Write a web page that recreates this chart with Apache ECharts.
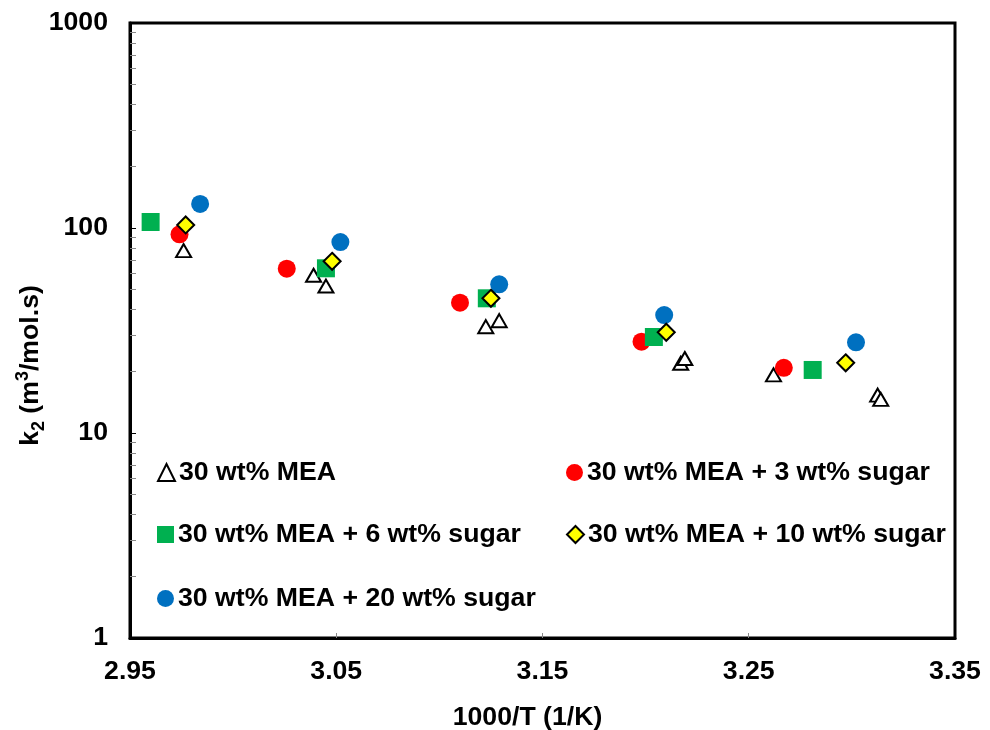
<!DOCTYPE html>
<html>
<head>
<meta charset="utf-8">
<script src="https://cdn.jsdelivr.net/npm/echarts@6/dist/echarts.min.js"></script>
<style>
  html, body { margin: 0; padding: 0; background: #fff; }
  #chart { width: 990px; height: 730px; }
</style>
</head>
<body>
<div id="chart"></div>
<script>
// Second-order rate constant k2 against inverse temperature, 1000/T
const FONT = '"Liberation Sans", Arial, sans-serif';
const FS = 26.67; // 20 pt

const seriesNames = [
  '30 wt% MEA',
  '30 wt% MEA + 3 wt% sugar',
  '30 wt% MEA + 6 wt% sugar',
  '30 wt% MEA + 10 wt% sugar',
  '30 wt% MEA + 20 wt% sugar'
];

// 30 wt% MEA
const xMEA = [2.976, 3.039, 3.045, 3.1225, 3.129, 3.217, 3.219, 3.262, 3.3125, 3.314];
const yMEA = [77.5, 58.8, 52.1, 33.0, 35.3, 21.9, 23.1, 19.2, 15.3, 14.6];
// + 3 wt% sugar
const xSugar3 = [2.974, 3.026, 3.110, 3.198, 3.267];
const ySugar3 = [93.2, 63.3, 43.2, 27.9, 20.8];
// + 6 wt% sugar
const xSugar6 = [2.960, 3.045, 3.123, 3.204, 3.281];
const ySugar6 = [107, 63.6, 45.4, 29.4, 20.3];
// + 10 wt% sugar
const xSugar10 = [2.977, 3.048, 3.125, 3.210, 3.297];
const ySugar10 = [103.5, 68.8, 45.4, 31.0, 22.0];
// + 20 wt% sugar
const xSugar20 = [2.984, 3.052, 3.129, 3.209, 3.302];
const ySugar20 = [131, 85.4, 53.1, 37.6, 27.7];

const xTickLabels = [2.95, 3.05, 3.15, 3.25, 3.35];
const xInnerTicks = [3.05, 3.15, 3.25];
const yMajor = [1, 10, 100, 1000];
const yMinor = [2, 3, 4, 5, 6, 7, 8, 9, 20, 30, 40, 50, 60, 70, 80, 90, 200, 300, 400, 500, 600, 700, 800, 900];

const pairs = (xs, ys) => xs.map((x, i) => [x, ys[i]]);

const labelStyle = { fontFamily: FONT, fontWeight: 'bold', fontSize: FS, color: '#000' };

function legendFor(name, left, top) {
  return {
    data: [name],
    left: left,
    top: top,
    padding: 0,
    itemGap: 0,
    itemWidth: 17,
    itemHeight: 17,
    selectedMode: false,
    textStyle: Object.assign({ padding: [0, 0, 0, -1] }, labelStyle)
  };
}

const chart = echarts.init(document.getElementById('chart'), null, { renderer: 'canvas' });

chart.setOption({
  animation: false,
  backgroundColor: '#fff',
  grid: {
    left: 130, right: 35, top: 23, bottom: 92,
    outerBoundsMode: 'none',
    containLabel: false,
    show: true, borderColor: '#000', borderWidth: 3, backgroundColor: 'transparent'
  },
  legend: [
    legendFor(seriesNames[0], 157, 459),
    legendFor(seriesNames[1], 566, 459),
    legendFor(seriesNames[2], 157, 521),
    legendFor(seriesNames[3], 566, 521),
    legendFor(seriesNames[4], 157, 585)
  ],
  xAxis: {
    type: 'value',
    min: 2.95,
    max: 3.35,
    name: '1000/T (1/K)',
    nameLocation: 'middle',
    nameGap: 66,
    nameMoveOverlap: false,
    nameTextStyle: Object.assign({ padding: [0, 30, 0, 0] }, labelStyle),
    axisLine: { show: true, onZero: false, lineStyle: { color: '#000', width: 3 } },
    axisTick: { show: true, inside: true, length: 5, customValues: xInnerTicks, lineStyle: { color: '#888', width: 1 } },
    axisLabel: Object.assign({ margin: 20, customValues: xTickLabels, formatter: v => v.toFixed(2) }, labelStyle),
    splitLine: { show: false }
  },
  yAxis: [
    {
      type: 'log',
      logBase: 10,
      min: 1,
      max: 1000,
      name: '{t|k}{s|2}{t| (m}{p|3}{t|/mol.s)}',
      nameLocation: 'middle',
      nameGap: 82,
      nameMoveOverlap: false,
      nameTextStyle: {
        padding: [0, 70, 0, 0],
        rich: {
          t: { fontFamily: FONT, fontWeight: 'bold', fontSize: FS, color: '#000', lineHeight: 34, verticalAlign: 'middle' },
          s: { fontFamily: FONT, fontWeight: 'bold', fontSize: 18, color: '#000', lineHeight: 18, verticalAlign: 'bottom' },
          p: { fontFamily: FONT, fontWeight: 'bold', fontSize: 18, color: '#000', lineHeight: 18, verticalAlign: 'top' }
        }
      },
      axisLine: { show: true, onZero: false, lineStyle: { color: '#000', width: 3 } },
      axisTick: { show: true, inside: true, length: 6, customValues: yMajor, lineStyle: { color: '#000', width: 1 } },
      axisLabel: Object.assign({ margin: 22, padding: [3, 0, 0, 0], customValues: yMajor, formatter: v => String(v) }, labelStyle),
      splitLine: { show: false }
    },
    {
      type: 'log',
      logBase: 10,
      min: 1,
      max: 1000,
      position: 'left',
      axisLine: { show: false },
      axisTick: { show: true, inside: true, length: 6, customValues: yMinor, lineStyle: { color: '#888', width: 1 } },
      axisLabel: { show: false },
      splitLine: { show: false }
    }
  ],
  series: [
    {
      name: seriesNames[0], type: 'scatter', data: pairs(xMEA, yMEA),
      symbol: 'triangle', symbolSize: [15, 13],
      itemStyle: { color: '#fff', borderColor: '#000', borderWidth: 2, opacity: 1 }
    },
    {
      name: seriesNames[1], type: 'scatter', data: pairs(xSugar3, ySugar3),
      symbol: 'circle', symbolSize: 18,
      itemStyle: { color: '#FF0000', opacity: 1 }
    },
    {
      name: seriesNames[2], type: 'scatter', data: pairs(xSugar6, ySugar6),
      symbol: 'rect', symbolSize: 18,
      itemStyle: { color: '#00B050', opacity: 1 }
    },
    {
      name: seriesNames[4], type: 'scatter', data: pairs(xSugar20, ySugar20),
      symbol: 'circle', symbolSize: 18,
      itemStyle: { color: '#0070C0', opacity: 1 }
    },
    {
      name: seriesNames[3], type: 'scatter', data: pairs(xSugar10, ySugar10),
      symbol: 'diamond', symbolSize: 17,
      itemStyle: { color: '#FFFF00', borderColor: '#000', borderWidth: 2, opacity: 1 }
    }
  ]
});
</script>
</body>
</html>
